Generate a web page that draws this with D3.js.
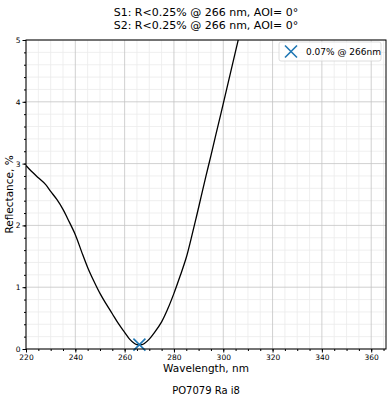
<!DOCTYPE html>
<html>
<head>
<meta charset="utf-8">
<script src="https://cdn.jsdelivr.net/npm/d3@7"></script>
<style>
body { margin: 0; background: #fff; }
text { font-family: "DejaVu Sans", sans-serif; }
</style>
</head>
<body>
<script>
var wavelength = [220, 221.6, 225, 228, 230, 232.5, 235, 237, 240, 242.5, 245, 247.5, 250, 252.5, 255, 257.5,
    260, 262, 264, 265, 266, 267, 268, 270, 272, 275, 277.5, 280, 282.5, 285, 287, 289, 291, 293, 295,
    297, 299, 301, 303, 305, 307];
var reflectance = [2.97, 2.9, 2.77, 2.66, 2.55, 2.42, 2.26, 2.1, 1.85, 1.58, 1.32, 1.1, 0.9, 0.73, 0.57, 0.41,
    0.27, 0.16, 0.09, 0.07, 0.065, 0.07, 0.09, 0.16, 0.26, 0.44, 0.65, 0.9, 1.18, 1.48, 1.79, 2.12, 2.46, 2.8, 3.13,
    3.47, 3.8, 4.14, 4.48, 4.82, 5.16];
var minPoint = {x: 266, y: 0.07};
var xTicks = [220, 240, 260, 280, 300, 320, 340, 360];
var yTicks = [0, 1, 2, 3, 4, 5];
var titleLines = ["S1: R<0.25% @ 266 nm, AOI= 0\u00b0", "S2: R<0.25% @ 266 nm, AOI= 0\u00b0"];
var legendLabel = "0.07% @ 266nm";

var svg = d3.select("body").append("svg")
    .attr("width", 391)
    .attr("height", 400)
    .style("display", "block");

margin = {top: 40, right: 5, bottom: 51, left: 26};
width = 391 - margin.left - margin.right;
height = 400 - margin.top - margin.bottom;
var g = svg.append("g").attr("transform", "translate(" + margin.left + "," + margin.top + ")");

var x = d3.scaleLinear().domain([220, 366]).range([0, width]);
var y = d3.scaleLinear().domain([0, 5]).range([height, 0]);

// minor grid
g.append("g").selectAll("line").data(d3.range(225, 366, 5).filter(function (d) { return d % 20 != 0; }))
    .enter().append("line")
    .attr("x1", function (d) { return x(d); }).attr("x2", function (d) { return x(d); })
    .attr("y1", 0).attr("y2", height)
    .attr("stroke", "#ebebeb").attr("stroke-width", 0.8);
g.append("g").selectAll("line").data(d3.range(0.2, 5, 0.2).filter(function (d) { return Math.abs(d - Math.round(d)) > 0.01; }))
    .enter().append("line")
    .attr("x1", 0).attr("x2", width)
    .attr("y1", function (d) { return y(d); }).attr("y2", function (d) { return y(d); })
    .attr("stroke", "#ebebeb").attr("stroke-width", 0.8);

// major grid
g.append("g").selectAll("line").data(xTicks)
    .enter().append("line")
    .attr("x1", function (d) { return x(d); }).attr("x2", function (d) { return x(d); })
    .attr("y1", 0).attr("y2", height)
    .attr("stroke", "#c4c4c4").attr("stroke-width", 0.8);
g.append("g").selectAll("line").data(yTicks)
    .enter().append("line")
    .attr("x1", 0).attr("x2", width)
    .attr("y1", function (d) { return y(d); }).attr("y2", function (d) { return y(d); })
    .attr("stroke", "#c4c4c4").attr("stroke-width", 0.8);

// axes
var xAxis = d3.axisBottom(x).tickValues(xTicks).tickSize(3.5).tickPadding(2);
var yAxis = d3.axisLeft(y).tickValues(yTicks).tickSize(3.5).tickPadding(2).tickFormat(d3.format("d"));

var gx = g.append("g").attr("transform", "translate(0," + height + ")").call(xAxis);
gx.selectAll("text").style("font-size", "7.5px").attr("fill", "#000");
gx.select(".domain").remove();
var gxm = g.append("g").attr("transform", "translate(0," + height + ")")
    .call(d3.axisBottom(x).tickValues(d3.range(225, 366, 5)).tickSize(2).tickFormat(""));
gxm.select(".domain").remove();

var gy = g.append("g").call(yAxis);
gy.selectAll("text").style("font-size", "7.5px").attr("fill", "#000");
gy.select(".domain").remove();
var gym = g.append("g")
    .call(d3.axisLeft(y).tickValues(d3.range(0, 5.01, 0.2)).tickSize(2).tickFormat(""));
gym.select(".domain").remove();

// curve
var pts = wavelength.map(function (w, i) { return [w, reflectance[i]]; });
g.append("clipPath").attr("id", "clip").append("rect").attr("width", width).attr("height", height);
g.append("path")
    .datum(pts)
    .attr("clip-path", "url(#clip)")
    .attr("fill", "none")
    .attr("stroke", "#000")
    .attr("stroke-width", 1.3)
    .attr("d", d3.line().curve(d3.curveCatmullRom.alpha(0.5))
        .x(function (d) { return x(d[0]); })
        .y(function (d) { return y(d[1]); }));

// min marker
function cross(sel, cx, cy, r) {
    sel.append("path")
        .attr("d", "M" + (cx - r) + "," + (cy - r) + "L" + (cx + r) + "," + (cy + r) +
            "M" + (cx - r) + "," + (cy + r) + "L" + (cx + r) + "," + (cy - r))
        .attr("stroke", "#1f77b4").attr("stroke-width", 1.6).attr("fill", "none");
}
cross(g, x(minPoint.x), y(minPoint.y), 6);

// frame
g.append("rect").attr("width", width).attr("height", height)
    .attr("fill", "none").attr("stroke", "#000").attr("stroke-width", 1);

// legend
var lg = svg.append("g").attr("transform", "translate(279,42)");
lg.append("rect").attr("width", 102).attr("height", 19).attr("rx", 2)
    .attr("fill", "#fff").attr("fill-opacity", 0.8).attr("stroke", "#d5d5d5").attr("stroke-width", 0.8);
cross(lg, 12, 9.5, 6);
lg.append("text").attr("x", 27).attr("y", 13).style("font-size", "9px").text(legendLabel);

// titles and labels
svg.selectAll(".title").data(titleLines).enter().append("text")
    .attr("class", "title")
    .attr("x", margin.left + width / 2)
    .attr("y", function (d, i) { return 16 + i * 13; })
    .attr("text-anchor", "middle")
    .style("font-size", "11px")
    .text(function (d) { return d; });

svg.append("text")
    .attr("x", margin.left + width / 2).attr("y", 372)
    .attr("text-anchor", "middle").style("font-size", "10.5px")
    .text("Wavelength, nm");

svg.append("text")
    .attr("transform", "translate(13," + (margin.top + height / 2) + ") rotate(-90)")
    .attr("text-anchor", "middle").style("font-size", "10.5px")
    .text("Reflectance, %");

svg.append("text")
    .attr("x", margin.left + width / 2).attr("y", 394)
    .attr("text-anchor", "middle").style("font-size", "10px")
    .text("PO7079 Ra i8");
</script>
</body>
</html>
